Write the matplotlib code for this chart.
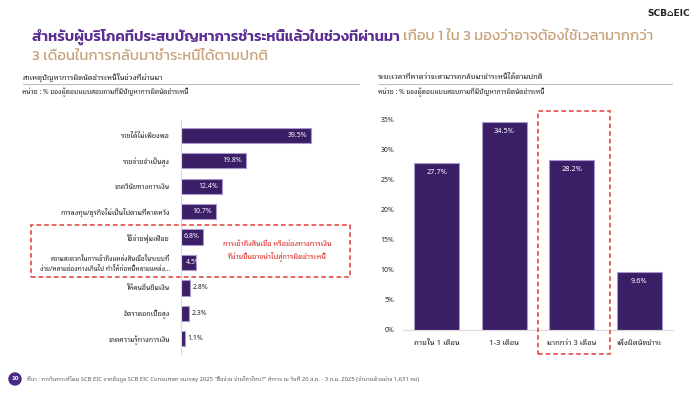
import matplotlib
matplotlib.use("Agg")
import matplotlib.pyplot as plt
from matplotlib.patches import Rectangle, Ellipse
from matplotlib.lines import Line2D

plt.rcParams['font.family'] = ['Noto Sans Thai Looped', 'DejaVu Sans']

# data
causes = ['รายได้ไม่เพียงพอ', 'รายจ่ายจำเป็นสูง', 'ขาดวินัยทางการเงิน',
          'การลงทุน/ธุรกิจไม่เป็นไปตามที่คาดหวัง', 'ใช้จ่ายฟุ่มเฟือย',
          'ความสะดวกในการเข้าถึงแหล่งสินเชื่อในระบบที่\nง่าย/หลายช่องทางเกินไป ทำให้ก่อหนี้หลายแหล่ง...',
          'ให้คนอื่นยืมเงิน', 'อัตราดอกเบี้ยสูง', 'ขาดความรู้ทางการเงิน']
cause_vals = [39.5, 19.8, 12.4, 10.7, 6.8, 4.5, 2.8, 2.3, 1.1]

periods = ['ภายใน 1 เดือน', '1-3 เดือน', 'มากกว่า 3 เดือน', 'เพิ่งผิดนัดชำระ']
period_vals = [27.7, 34.5, 28.2, 9.6]
yticks = [0, 5, 10, 15, 20, 25, 30, 35]

BAR = '#3A1E66'
EDGE = '#A899CC'
PURPLE = '#5B2C91'
GOLD = '#C8A27C'
RED = '#E03A36'
DARK = '#262626'
GREY = '#595959'

W, H = 700, 394


def px(x, y):
    return x / W, 1 - y / H


fig = plt.figure(figsize=(7, 3.94), dpi=100)

# title
tfont = ['Kanit', 'DejaVu Sans']
t1 = fig.text(*px(32, 37), 'สำหรับผู้บริโภคที่ประสบปัญหาการชำระหนี้แล้วในช่วงที่ผ่านมา ',
              family=tfont, fontsize=10.7, weight='semibold', color=PURPLE, va='center')
fig.canvas.draw()
bb = t1.get_window_extent()
fig.text(bb.x1 / W, 1 - 37 / H, 'เกือบ 1 ใน 3 มองว่าอาจต้องใช้เวลามากกว่า',
         family=tfont, fontsize=10.7, color=GOLD, va='center')
fig.text(*px(32, 57), '3 เดือนในการกลับมาชำระหนี้ได้ตามปกติ',
         family=tfont, fontsize=10.7, color=GOLD, va='center')

# logo
fig.text(*px(690, 13), 'SCB⌂EIC', family='DejaVu Sans', fontsize=6.5,
         weight='bold', color='#222222', ha='right', va='center')

# sub headers
fig.text(*px(23, 77), 'สาเหตุปัญหาการผิดนัดชำระหนี้ในช่วงที่ผ่านมา', fontsize=5.5,
         color=DARK, va='center')
fig.text(*px(22, 92), 'หน่วย : % ของผู้ตอบแบบสอบถามที่มีปัญหาการผิดนัดชำระหนี้', fontsize=4.8,
         weight='bold', color=DARK, va='center')
fig.add_artist(Line2D([23 / W, 359 / W], [1 - 84 / H] * 2, color='#BFBFBF', lw=0.8))

fig.text(*px(378, 77), 'ระยะเวลาที่คาดว่าจะสามารถกลับมาชำระหนี้ได้ตามปกติ', fontsize=5.5,
         color=DARK, va='center')
fig.text(*px(378, 92), 'หน่วย : % ของผู้ตอบแบบสอบถามที่มีปัญหาการผิดนัดชำระหนี้', fontsize=4.8,
         weight='bold', color=DARK, va='center')
fig.add_artist(Line2D([378 / W, 672 / W], [1 - 84 / H] * 2, color='#BFBFBF', lw=0.8))

# left chart
ax1 = fig.add_axes([181 / W, 1 - 354 / H, 148 / W, 234 / H])
ypos = list(range(len(causes)))
bars = ax1.barh(ypos, cause_vals, height=0.6, color=BAR, edgecolor=EDGE, linewidth=0.8)
ax1.set_xlim(0, 45)
ax1.set_ylim(len(causes) - 0.4, -0.6)
for s in ['top', 'right', 'bottom']:
    ax1.spines[s].set_visible(False)
ax1.spines['left'].set_color('#D9D9D9')
ax1.spines['left'].set_linewidth(0.8)
ax1.set_xticks([])
ax1.set_yticks(ypos)
ax1.set_yticklabels(causes, fontsize=5.0, weight='bold', color=DARK, linespacing=1.6)
ax1.tick_params(axis='y', length=0, pad=8)
for lab in ax1.get_yticklabels():
    lab.set_multialignment('right')
ax1.get_yticklabels()[5].set_fontsize(4.6)

for i, (b, v) in enumerate(zip(bars, cause_vals)):
    lbl = f'{v}%'
    if v >= 6:
        ax1.text(v - 1.1, i, lbl, color='white', fontsize=5, weight='bold',
                 ha='right', va='center')
    elif v >= 4:
        t = ax1.text(1.5, i, lbl, color='white', fontsize=5, weight='bold',
                     ha='left', va='center')
        t.set_clip_path(b)
    else:
        ax1.text(v + 0.9, i, lbl, color=DARK, fontsize=5, weight='bold',
                 ha='left', va='center')

# red callout on the left
fig.add_artist(Rectangle(px(31, 277), 319 / W, 52 / H, fill=False, edgecolor=RED,
                         lw=1.1, ls=(0, (3, 2))))
fig.text(*px(277, 251), 'การเข้าถึงสินเชื่อ หรือช่องทางการเงิน\nที่ง่ายขึ้นอาจนำไปสู่การผิดชำระหนี้',
         fontsize=5.3, weight='bold', color='#D9241F', ha='center', va='center',
         linespacing=1.5)

# right chart
ax2 = fig.add_axes([403 / W, 1 - 330 / H, 270 / W, 217 / H])
xpos = list(range(len(periods)))
ax2.bar(xpos, period_vals, width=0.667, color=BAR, edgecolor=EDGE, linewidth=0.8)
ax2.set_xlim(-0.5, 3.5)
ax2.set_ylim(0, 36)
for s in ['top', 'right', 'left']:
    ax2.spines[s].set_visible(False)
ax2.spines['bottom'].set_color('#D9D9D9')
ax2.spines['bottom'].set_linewidth(0.8)
ax2.set_yticks(yticks)
ax2.set_yticklabels([f'{t}%' for t in yticks], fontsize=5, weight='bold', color=DARK)
ax2.set_xticks(xpos)
ax2.set_xticklabels(periods, fontsize=5.5, weight='bold', color=DARK)
ax2.tick_params(axis='y', length=0, pad=6)
ax2.tick_params(axis='x', length=0, pad=7)
for x, v in zip(xpos, period_vals):
    ax2.text(x, v - 1.5, f'{v}%', color='white', fontsize=5.3, weight='bold',
             ha='center', va='center')

fig.add_artist(Rectangle(px(538, 354), 72 / W, 243 / H, fill=False, edgecolor=RED,
                         lw=1.1, ls=(0, (3, 2))))

# footer
fig.add_artist(Ellipse(px(15, 379), 12 / W, 12 / H, color='#4B2A86',
                       transform=fig.transFigure))
fig.text(*px(15, 379), '10', fontsize=4, weight='bold', color='white',
         ha='center', va='center', family='DejaVu Sans')
fig.text(*px(27, 379), 'ที่มา : การวิเคราะห์โดย SCB EIC จากข้อมูล SCB EIC Consumer survey 2025 "ซื้อง่าย จ่ายไหวไหม?" '
         'สำรวจ ณ วันที่ 20 ส.ค. - 3 ก.ย. 2025 (จำนวนตัวอย่าง 1,631 คน)',
         fontsize=4.2, color=GREY, va='center')

fig.savefig('out.png', dpi=100)
